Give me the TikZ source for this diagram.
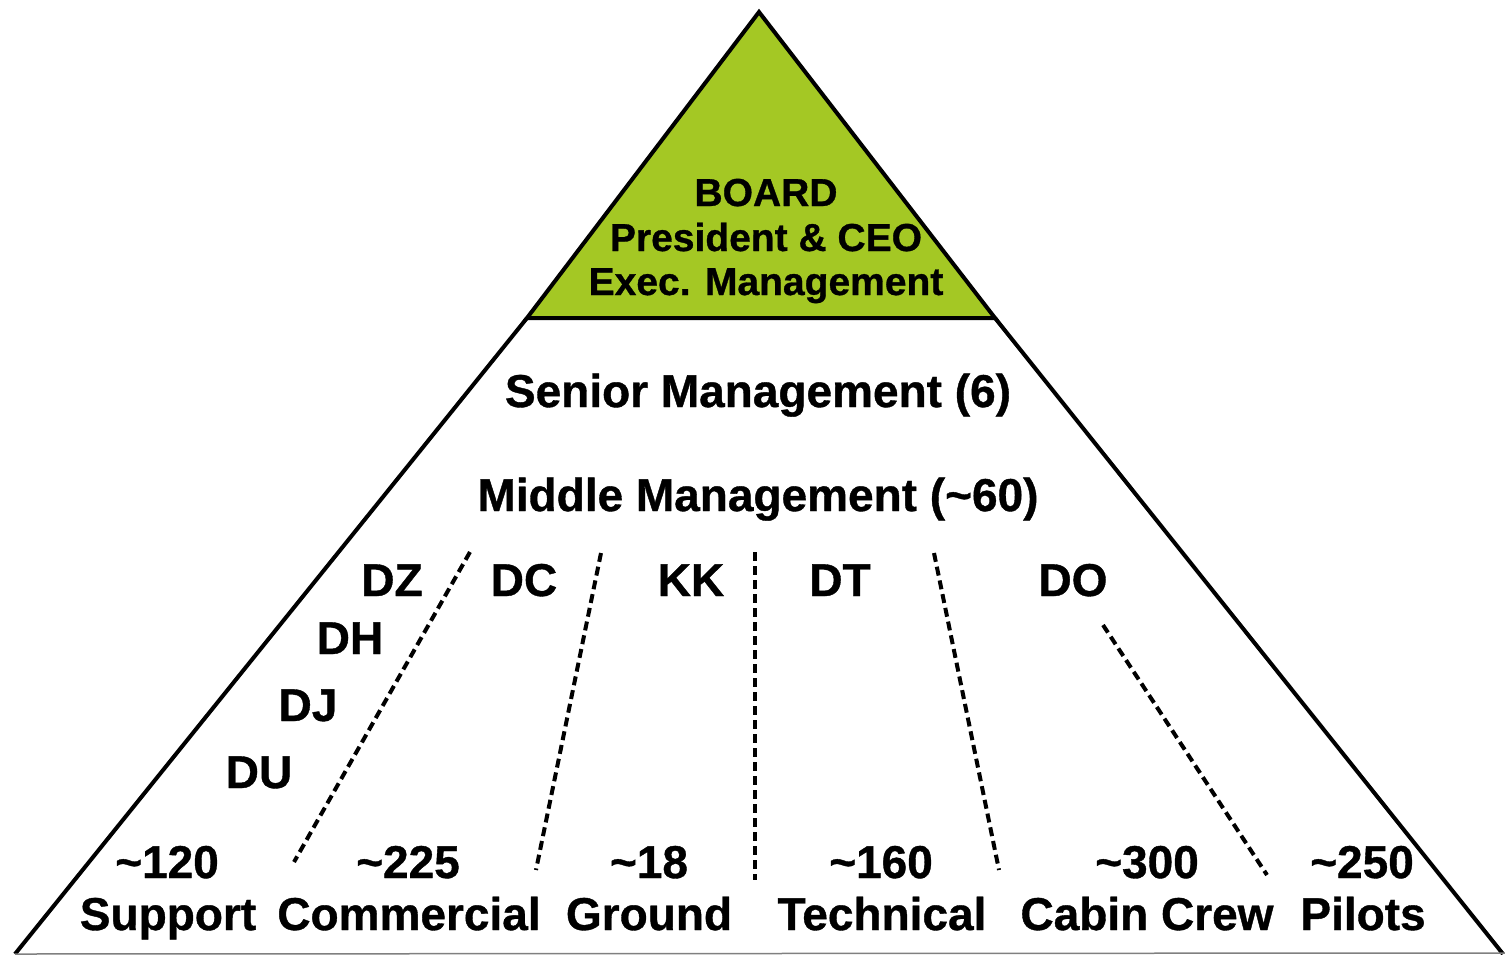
\documentclass[tikz,border=0pt]{standalone}
\usepackage{fontspec}
\setmainfont{Liberation Sans}[BoldFeatures={FakeBold=0.8}]
\definecolor{boardgreen}{RGB}{164,200,36}
\begin{document}
\begin{tikzpicture}[x=1pt,y=-1pt,
  lbl/.style={font=\fontsize{46}{50}\selectfont\bfseries, anchor=base, inner sep=0pt},
  toplbl/.style={font=\fontsize{39}{45}\selectfont\bfseries, anchor=base, inner sep=0pt},
  edge/.style={line width=4pt, line join=miter, draw=black},
  divider/.style={line width=4pt, dash pattern=on 9pt off 5pt, draw=black}]
\useasboundingbox (0,0) rectangle (1505,954);
\fill[white] (0,0) rectangle (1505,954);

% pyramid corners
\coordinate (apex) at (759,12);
\coordinate (tl) at (527,318);
\coordinate (tr) at (995,318);
\coordinate (bl) at (15,954);
\coordinate (br) at (1503,954);

% executive tier
\filldraw[fill=boardgreen, edge] (apex) -- (tr) -- (tl) -- cycle;
% lower body of the pyramid
\draw[edge] (tl) -- (bl);
\draw[edge] (tr) -- (br);
\draw[gray, line width=1.5pt] (bl) -- (1505,953);

% executive labels
\node[toplbl] (board) at (766,206) {BOARD};
\node[toplbl] (ceo) at (766,251) {President \& CEO};
\node[toplbl] (exec) at (766,295) {Exec. Management};

% management levels
\node[lbl] (senior) at (758,407) {Senior Management (6)};
\node[lbl] (middle) at (758,511) {Middle Management (\textasciitilde60)};

% division codes
\node[lbl] (dz) at (392,596) {DZ};
\node[lbl] (dh) at (350,654) {DH};
\node[lbl] (dj) at (308,721) {DJ};
\node[lbl] (du) at (259,788) {DU};
\node[lbl] (dc) at (524,596) {DC};
\node[lbl] (kk) at (691,596) {KK};
\node[lbl] (dt) at (840,596) {DT};
\node[lbl] (do) at (1073,596) {DO};

% headcounts
\node[lbl] (n1) at (167,878) {\textasciitilde120};
\node[lbl] (n2) at (408,878) {\textasciitilde225};
\node[lbl] (n3) at (649,878) {\textasciitilde18};
\node[lbl] (n4) at (881,878) {\textasciitilde160};
\node[lbl] (n5) at (1147,878) {\textasciitilde300};
\node[lbl] (n6) at (1362,878) {\textasciitilde250};

% staff groups
\node[lbl] (support) at (168,930) {Support};
\node[lbl] (commercial) at (409,930) {Commercial};
\node[lbl] (ground) at (649,930) {Ground};
\node[lbl] (technical) at (882,930) {Technical};
\node[lbl] (cabin) at (1147,930) {Cabin Crew};
\node[lbl] (pilots) at (1363,930) {Pilots};

% dashed dividers between groups
\coordinate (d1a) at (470,552); \coordinate (d1b) at (294,862);
\coordinate (d2a) at (601,553); \coordinate (d2b) at (536,870);
\coordinate (d3a) at (755,552); \coordinate (d3b) at (755,880);
\coordinate (d4a) at (934,553); \coordinate (d4b) at (999,870);
\coordinate (d5a) at (1103,625); \coordinate (d5b) at (1267,875);
\draw[divider] (d1a) -- (d1b);
\draw[divider] (d2a) -- (d2b);
\draw[divider] (d3a) -- (d3b);
\draw[divider] (d4a) -- (d4b);
\draw[divider] (d5a) -- (d5b);
\end{tikzpicture}
\end{document}
